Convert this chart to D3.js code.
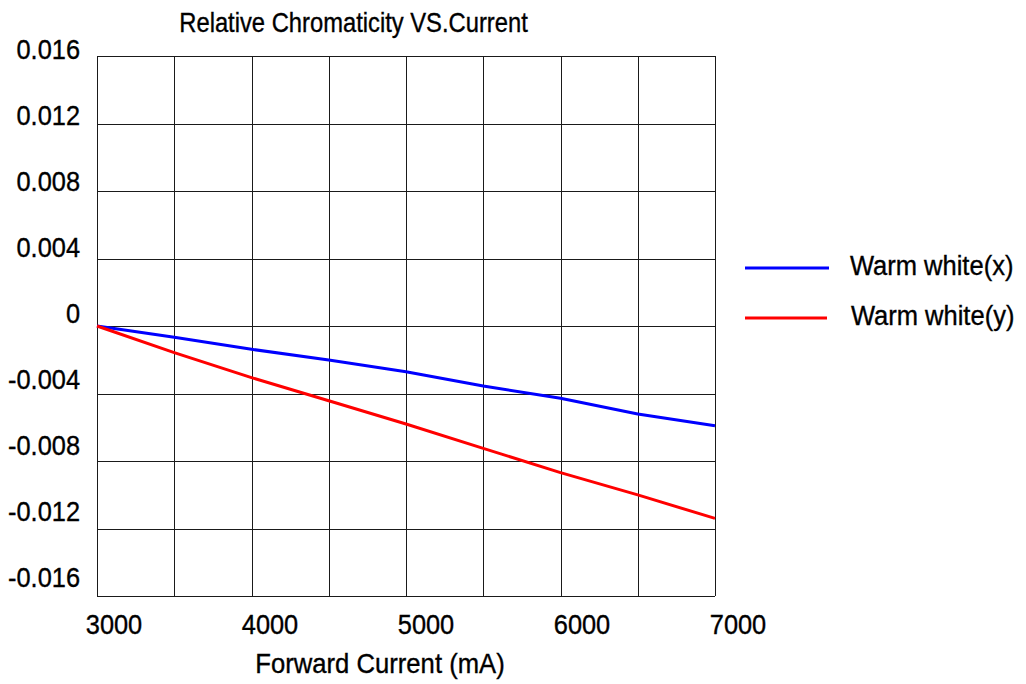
<!DOCTYPE html>
<html>
<head>
<meta charset="utf-8">
<script src="https://cdn.jsdelivr.net/npm/d3@7"></script>
<style>
  html, body { margin: 0; padding: 0; background: #fff; }
  svg { display: block; }
  text { font-family: "Liberation Sans", Arial, sans-serif; fill: #000; stroke: #000; stroke-width: 0.35px; }
</style>
</head>
<body>
<svg id="chart" width="1026" height="684"></svg>
<script>
// ---- data ----
const currents = [3000, 3500, 4000, 4500, 5000, 5500, 6000, 6500, 7000];
const warmWhiteX = [0, -0.00067, -0.00138, -0.00201, -0.00271, -0.00356, -0.00428, -0.00521, -0.00591];
const warmWhiteY = [0, -0.00158, -0.00306, -0.00443, -0.00581, -0.00725, -0.00869, -0.01001, -0.0114];
const xTicks = [3000, 4000, 5000, 6000, 7000];
const xGrid = [3000, 3500, 4000, 4500, 5000, 5500, 6000, 6500, 7000];
const yTicks = [0.016, 0.012, 0.008, 0.004, 0, -0.004, -0.008, -0.012, -0.016];
const yTickLabels = ["0.016", "0.012", "0.008", "0.004", "0", "-0.004", "-0.008", "-0.012", "-0.016"];
const seriesNames = ["Warm white(x)", "Warm white(y)"];
const seriesColors = ["#0000ff", "#ff0000"];
const title = "Relative Chromaticity VS.Current";
const xTitle = "Forward Current (mA)";

// ---- scales ----
const svg = d3.select("#chart");
const x = d3.scaleLinear().domain([3000, 7000]).range([97, 715]);
const y = d3.scaleLinear().domain([0.016, -0.016]).range([56, 596]);
// label placement scales (labels in the original are not exactly aligned with the grid)
const xLab = d3.scaleLinear().domain([3000, 7000]).range([114, 738]);
const yLab = d3.scaleLinear().domain([0.016, -0.016]).range([49.5, 577.5]);

const FS = 27, SX = 0.94;
function label(parent, tx, ty, sx) {
  return parent.append("g")
    .attr("transform", `translate(${tx},${ty}) scale(${sx},1)`)
    .append("text").style("font-size", FS + "px");
}

// ---- grid ----
const grid = svg.append("g").attr("stroke", "#1a1a1a").attr("stroke-width", 1);
grid.selectAll("line.v").data(xGrid).join("line")
  .attr("class", "v")
  .attr("x1", d => Math.round(x(d)) + 0.5).attr("x2", d => Math.round(x(d)) + 0.5)
  .attr("y1", y(0.016)).attr("y2", y(-0.016));
grid.selectAll("line.h").data(yTicks).join("line")
  .attr("class", "h")
  .attr("y1", d => Math.round(y(d)) + 0.5).attr("y2", d => Math.round(y(d)) + 0.5)
  .attr("x1", x(3000)).attr("x2", x(7000));

// ---- tick labels ----
const xl = svg.append("g");
xTicks.forEach(d => {
  label(xl, xLab(d), 634, SX).attr("text-anchor", "middle").text(d);
});
const yl = svg.append("g");
yTicks.forEach((d, i) => {
  label(yl, 80, yLab(d), SX).attr("text-anchor", "end").attr("dy", "0.36em").text(yTickLabels[i]);
});

// ---- lines ----
const series = [warmWhiteX, warmWhiteY];
const line = d3.line().x((d, i) => x(currents[i])).y(d => y(d));
svg.append("g").selectAll("path").data(series).join("path")
  .attr("d", d => line(d))
  .attr("fill", "none")
  .attr("stroke", (d, i) => seriesColors[i])
  .attr("stroke-width", 3)
  .attr("stroke-linejoin", "round");

// ---- titles ----
label(svg, 353.5, 32, 0.88).attr("text-anchor", "middle").text(title);
label(svg, 380, 673, 0.95).attr("text-anchor", "middle").text(xTitle);

// ---- legend ----
const legendY = d3.scaleOrdinal().domain(seriesNames).range([268, 318]);
const lg = svg.append("g");
seriesNames.forEach((d, i) => {
  lg.append("line").attr("x1", 745).attr("x2", i ? 827 : 829)
    .attr("y1", legendY(d)).attr("y2", legendY(d))
    .attr("stroke", seriesColors[i]).attr("stroke-width", 3);
  label(lg, 850 + i, legendY(d) + 7, 0.945).text(d);
});
</script>
</body>
</html>
